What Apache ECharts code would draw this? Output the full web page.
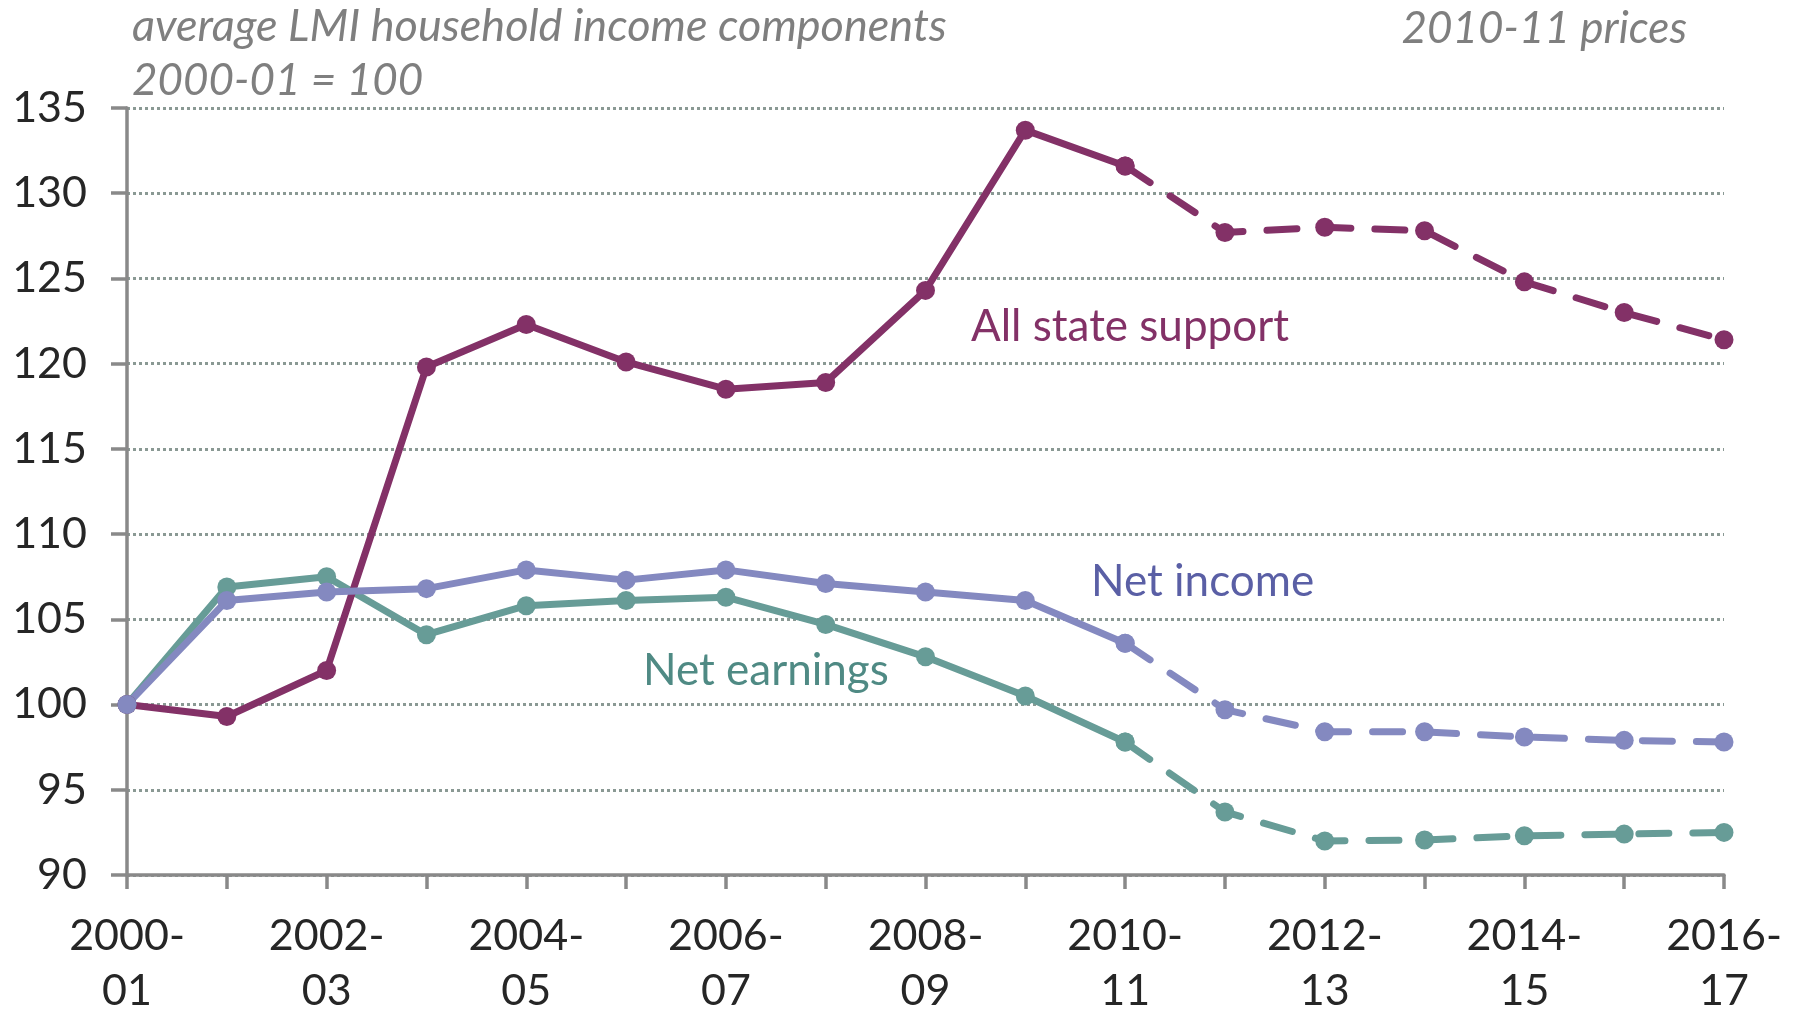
<!DOCTYPE html>
<html>
<head>
<meta charset="utf-8">
<title>LMI household income components</title>
<script src="https://cdn.jsdelivr.net/npm/echarts@6/dist/echarts.min.js"></script>
<style>
	html, body { margin: 0; padding: 0; background: #fff; }
	#chart { width: 1806px; height: 1011px; }
</style>
</head>
<body>
<div id="chart"></div>
<script>
// data (index, 2000-01 = 100)
var years = ['2000-01', '2001-02', '2002-03', '2003-04', '2004-05', '2005-06', '2006-07', '2007-08', '2008-09',
	'2009-10', '2010-11', '2011-12', '2012-13', '2013-14', '2014-15', '2015-16', '2016-17'];
var stateSupport = [100, 99.3, 102, 119.8, 122.3, 120.1, 118.5, 118.9, 124.3, 133.7, 131.6, 127.7, 128.0, 127.8, 124.8, 123.0, 121.4];
var netIncome = [100, 106.1, 106.6, 106.8, 107.9, 107.3, 107.9, 107.1, 106.6, 106.1, 103.6, 99.7, 98.4, 98.4, 98.1, 97.9, 97.8];
var netEarnings = [100, 106.9, 107.5, 104.1, 105.8, 106.1, 106.3, 104.7, 102.8, 100.5, 97.8, 93.7, 92.0, 92.05, 92.3, 92.4, 92.5];
var yMin = 90, yMax = 135, yStep = 5;
var lastOutturn = 10; // 2010-11: dashed (projection) after this

var font = 'Lato';

var main = {
	init: function() {
		var myChart = echarts.init(document.getElementById('chart'));
		var option = {
			animation: false,
			grid: {
				left: 127,
				right: 82,
				top: 108,
				bottom: 136,
				outerBoundsMode: 'none' // keep the plot area where it is, labels may sit near the edge
			},
			xAxis: {
				type: 'category',
				data: years,
				boundaryGap: false,
				axisLine: {
					lineStyle: { color: '#898989', width: 3.5 }
				},
				axisTick: {
					interval: 0,
					length: 14,
					lineStyle: { color: '#898989', width: 3.5 }
				},
				axisLabel: {
					interval: 1,
					margin: 34,
					color: '#262626',
					fontFamily: font,
					fontSize: 43,
					lineHeight: 55,
					formatter: function(v) {
						return v.replace('-', '-\n');
					}
				},
				splitLine: { show: false }
			},
			yAxis: {
				type: 'value',
				min: yMin,
				max: yMax,
				interval: yStep,
				axisLine: {
					show: true,
					lineStyle: { color: '#898989', width: 3.5 }
				},
				axisTick: {
					show: true,
					length: 16,
					lineStyle: { color: '#898989', width: 3.5 }
				},
				axisLabel: {
					margin: 40,
					color: '#262626',
					fontFamily: font,
					fontSize: 43
				},
				splitLine: {
					show: true,
					lineStyle: { color: '#8a9994', width: 3, type: [3, 3] }
				}
			},
			graphic: [
				main.text('average LMI household income components', 132, 26, 'left', '#7f7f7f', 'italic 45px ' + font),
				main.text('2000-01 = 100', 132, 81, 'left', '#7f7f7f', 'italic 44px ' + font),
				main.text('2010-11 prices', 1687, 29, 'right', '#7f7f7f', 'italic 44px ' + font),
				main.text('All state support', 971, 327, 'left', '#833167', '44px ' + font),
				main.text('Net income', 1091, 582, 'left', '#5a5fa5', '44px ' + font),
				main.text('Net earnings', 643, 671, 'left', '#4f8a84', '44px ' + font)
			],
			series: []
		};

		var lines = [
			{ name: 'Net earnings', data: netEarnings, color: '#679c97' },
			{ name: 'All state support', data: stateSupport, color: '#833167' },
			{ name: 'Net income', data: netIncome, color: '#8489c0' }
		];
		lines.forEach(function(l) {
			var solid = l.data.map(function(v, i) { return i <= lastOutturn ? v : null; });
			var dashed = l.data.map(function(v, i) { return i >= lastOutturn ? v : null; });
			option.series.push(main.line(l.name, solid, l.color, 'solid'));
			option.series.push(main.line(l.name + ' (projection)', dashed, l.color, [30, 24]));
		});

		myChart.setOption(option);
	},
	text: function(str, x, y, align, color, f) {
		return {
			type: 'text',
			x: x,
			y: y,
			style: {
				text: str,
				fill: color,
				font: f,
				textAlign: align,
				textVerticalAlign: 'middle'
			}
		};
	},
	line: function(name, data, color, dash) {
		return {
			name: name,
			type: 'line',
			data: data,
			symbol: 'circle',
			symbolSize: 19,
			showAllSymbol: true,
			connectNulls: false,
			itemStyle: { color: color },
			lineStyle: { color: color, width: 7, type: dash, cap: 'round' },
			emphasis: { disabled: true }
		};
	}
};

main.init();
</script>
</body>
</html>
